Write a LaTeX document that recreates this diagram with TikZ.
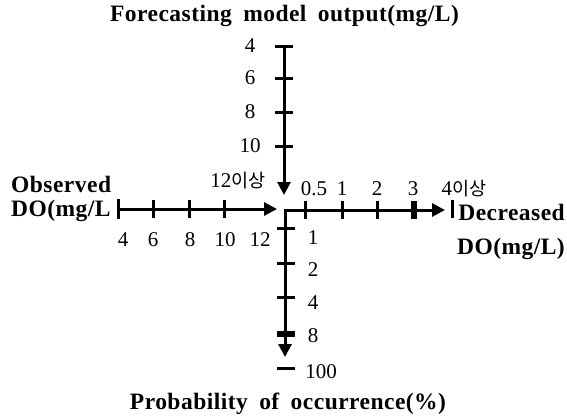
\documentclass[tikz,border=0pt]{standalone}
\usepackage{fontspec}
\setmainfont{Liberation Serif}
\newfontfamily\capfont[LetterSpace=2,WordSpace=1.8]{Liberation Serif}
\newfontfamily\krfont{Noto Sans CJK KR}
\usetikzlibrary{arrows.meta}

\tikzset{
  axisline/.style={line width=3pt,line join=miter,-{Triangle[length=13pt,width=13pt]}},
  tickmark/.style={line width=3pt},
  numlab/.style={font=\fontsize{21}{23}\selectfont,inner sep=0pt},
  ttl/.style={font=\capfont\bfseries\fontsize{23.5}{26}\selectfont,inner sep=0pt}
}

\begin{document}
\begin{tikzpicture}[x=1pt,y=-1pt]
\useasboundingbox (0,0) rectangle (567,416);

% titles
\node[ttl] (ttop) at (284.5,16) {Forecasting model output(mg/L)};
\node[ttl] (tbot) at (288,404) {Probability of occurrence(\%)};
\node[ttl,anchor=base west] (obs1) at (11,192) {Observed};
\node[ttl,anchor=base west] (obs2) at (11,216) {DO(mg/L};
\node[ttl,anchor=base east] (dec1) at (565,220) {Decreased};
\node[ttl,anchor=base east] (dec2) at (565,254) {DO(mg/L)};

% axis ends
\coordinate (o) at (285,210);
\coordinate (topS) at (284,46);
\coordinate (topE) at (284,195);
\coordinate (leftS) at (118,209);
\coordinate (leftE) at (277,209);
\coordinate (rightE) at (445,210);
\coordinate (botE) at (285,357);

% top axis: forecasting model output
\draw[axisline] (topS) -- (topE);
\foreach \y/\v [count=\i] in {46/4,78/6,112/8,146/10}{
  \draw[tickmark] (275,\y) -- (293,\y);
  \node[numlab] (top\i) at (250,\y) {\v};
}
\node[numlab] (top5) at (238,181) {12{\krfont\fontsize{18.5}{20}\selectfont 이상}};

% left axis: observed DO
\draw[axisline] (leftS) -- (leftE);
\draw[tickmark] (118,199) -- (118,219);
\foreach \x/\v [count=\i] in {153/6,189/8,224/10}{
  \draw[tickmark] (\x,200) -- (\x,218);
}
\foreach \x/\v [count=\i] in {123/4,153/6,190/8,225/10,260/12}{
  \node[numlab] (left\i) at (\x,240) {\v};
}

% right and bottom axes from the corner
\draw[axisline,{Triangle[length=13pt,width=13pt]}-{Triangle[length=13pt,width=13pt]}] (rightE) -- (o) -- (botE);
\foreach \x in {305,342,377,412,415}{
  \draw[tickmark] (\x,201) -- (\x,219);
}
\foreach \x/\v [count=\i] in {314/0.5,342/1,377/2,413/3}{
  \node[numlab] (right\i) at (\x,189) {\v};
}
\node[numlab] (right5) at (464,189) {4{\krfont\fontsize{18.5}{20}\selectfont 이상}};
\draw[tickmark] (452,200) -- (452,218);

\foreach \y in {228,263,297,332,335}{
  \draw[tickmark] (277,\y) -- (295,\y);
}
\foreach \y/\v [count=\i] in {238/1,270/2,303/4,336/8}{
  \node[numlab] (bot\i) at (313,\y) {\v};
}
\node[numlab] (bot5) at (321,372) {100};
\draw[tickmark] (277,368) -- (295,368);
\end{tikzpicture}
\end{document}
